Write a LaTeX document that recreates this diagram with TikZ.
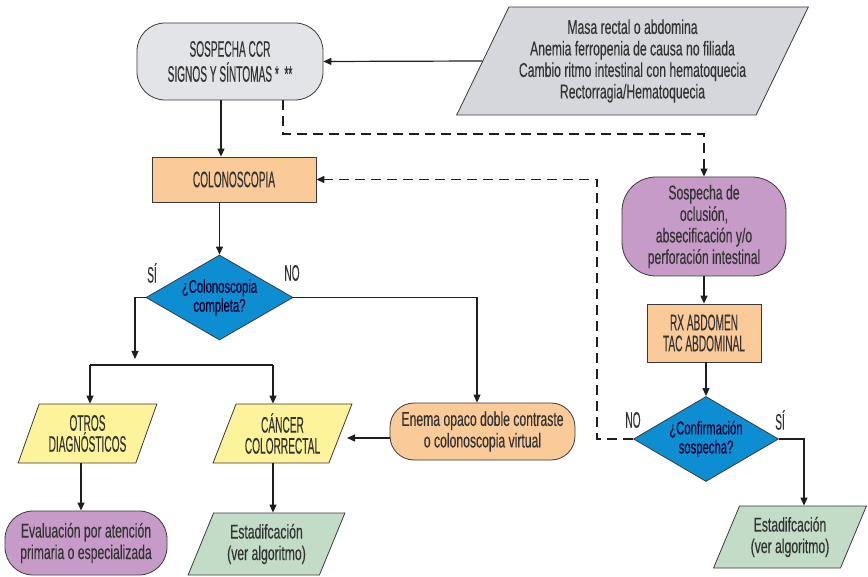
\documentclass[tikz,border=0pt]{standalone}
\usepackage{fontspec}
\setmainfont[FakeStretch=0.61,FakeBold=0.2]{Liberation Sans}
\newfontfamily\capfont[FakeStretch=0.45,FakeBold=0.2]{Liberation Sans}
\usetikzlibrary{shapes.geometric,arrows.meta}

\definecolor{edge}{HTML}{3A3A3A}
\definecolor{txt}{HTML}{333333}
\definecolor{wire}{HTML}{1E1E1E}
\definecolor{greybox}{HTML}{E3E4E8}
\definecolor{greypara}{HTML}{D5D7DC}
\definecolor{orangebox}{HTML}{FBCA99}
\definecolor{bluedec}{HTML}{0E8ED2}
\definecolor{yellowpara}{HTML}{FCF39B}
\definecolor{purplebox}{HTML}{C69BC8}
\definecolor{greenpara}{HTML}{C2DCC7}

\tikzset{
  box/.style={draw=edge, line width=0.8pt, text=txt, align=center, inner sep=0pt},
  lowtext/.style={font=\fontsize{20}{21.5}\selectfont},
  captext/.style={font=\capfont\fontsize{22.5}{21}\selectfont},
  rbox/.style={box, rectangle, rounded corners=#1},
  sqbox/.style={box, rectangle},
  para/.style={box, trapezium, trapezium left angle=#1, trapezium stretches=true},
  decision/.style={box, diamond, shape aspect=1.7, fill=bluedec, text=black!80!blue,
                   font=\fontsize{18.5}{19}\selectfont},
  lbl/.style={text=txt, inner sep=0pt, font=\capfont\fontsize{22.5}{21}\selectfont},
  arr/.style={draw=wire, line width=1.2pt, -{Triangle[length=8pt,width=7pt]}},
  wireline/.style={draw=wire, line width=1.2pt},
  dsh/.style={draw=wire, line width=1.3pt, dash pattern=on 10pt off 6pt,
              -{Triangle[length=8pt,width=7pt]}},
}

\begin{document}
\begin{tikzpicture}[x=1pt,y=-1pt]
\useasboundingbox (0,0) rectangle (868,577);

% ---- nodes ----
\node[rbox=28pt, fill=greybox, font=\capfont\fontsize{22.5}{25}\selectfont,
      minimum width=186pt, minimum height=77pt] (sosp) at (230,61.5)
      {SOSPECHA CCR\\SIGNOS Y SÍNTOMAS\ *\ \ **};

\node[para=60, trapezium right angle=120, fill=greypara, lowtext,
      minimum width=353pt, minimum height=108pt] (signs) at (632.5,61)
      {Masa rectal o abdomina\\Anemia ferropenia de causa no filiada\\
       Cambio ritmo intestinal con hematoquecia\\Rectorragia/Hematoquecia};

\node[sqbox, fill=orangebox, captext, minimum width=164pt, minimum height=45pt]
      (colo) at (234,179.5) {COLONOSCOPIA};

\node[decision, minimum width=147pt, minimum height=85pt] (d1) at (219.5,297.5)
      {¿Colonoscopia\\completa?};
\node[lbl] (si1) at (152,273) {SÍ};
\node[lbl] (no1) at (292,273) {NO};

\node[rbox=24pt, fill=orangebox, lowtext, minimum width=185pt, minimum height=57pt]
      (enema) at (482.5,431.5) {Enema opaco doble contraste\\o colonoscopia virtual};

\node[para=65.4, trapezium right angle=114.6, fill=yellowpara, captext,
      minimum width=139pt, minimum height=59pt] (otros) at (87.5,433.5)
      {OTROS\\DIAGNÓSTICOS};
\node[para=65.4, trapezium right angle=114.6, fill=yellowpara, captext,
      minimum width=139pt, minimum height=59pt] (cancer) at (282.5,433.5)
      {CÁNCER\\COLORRECTAL};

\node[rbox=28pt, fill=purplebox, lowtext, minimum width=162pt, minimum height=64pt]
      (eval) at (86,543) {Evaluación por atención\\primaria o especializada};
\node[para=64.9, trapezium right angle=115.1, fill=greenpara, lowtext,
      minimum width=157pt, minimum height=62pt] (est1) at (266.5,544)
      {Estadifcación\\(ver algoritmo)};

\node[rbox=34pt, fill=purplebox, lowtext, minimum width=164pt, minimum height=99pt]
      (ocl) at (704,226.5)
      {Sospecha de\\oclusión,\\absecificación y/o\\perforación intestinal};
\node[sqbox, fill=orangebox, captext, minimum width=114pt, minimum height=58pt]
      (rx) at (704,333) {RX ABDOMEN\\TAC ABDOMINAL};
\node[decision, minimum width=145pt, minimum height=85pt] (d2) at (706,439)
      {¿Confirmación\\sospecha?};
\node[lbl] (no2) at (633,420) {NO};
\node[lbl] (si2) at (780,420) {SÍ};
\node[para=63.4, trapezium right angle=116.6, fill=greenpara, lowtext,
      minimum width=153pt, minimum height=62pt] (est2) at (790,537)
      {Estadifcación\\(ver algoritmo)};

% ---- routing points ----
\coordinate (xa) at (221,0);
\coordinate (xd) at (283,0);
\coordinate (dk) at (704,134);
\coordinate (xq) at (597,0);
\coordinate (tipL) at (135,359);
\coordinate (bl) at (90,365);
\coordinate (br) at (273,365);
\coordinate (xe) at (477,0);
\coordinate (ctip) at (347,438);
\coordinate (xo) at (81,0);
\coordinate (xc) at (273,0);
\coordinate (xs) at (804,0);

% ---- connectors ----
\draw[arr] (signs.west) -- (sosp.east);
\draw[arr] (sosp.south -| xa) -- (colo.north -| xa);
\draw[arr] (colo.south -| d1.north) -- (d1.north);
\draw[dsh] (sosp.south -| xd) |- (dk) -- (ocl.north);

\draw[arr] (d1.west) -| (tipL);
\draw[wireline] (bl) -- (br);
\draw[arr] (bl) -- (bl |- otros.north);
\draw[arr] (br) -- (br |- cancer.north);
\draw[arr] (d1.east) -| (enema.north -| xe);
\draw[arr] (enema.west |- ctip) -- (ctip);

\draw[arr] (otros.south -| xo) -- (eval.north -| xo);
\draw[arr] (cancer.south -| xc) -- (est1.north -| xc);

\draw[arr] (ocl.south) -- (rx.north);
\draw[arr] (rx.south -| d2.north) -- (d2.north);
\draw[arr] (d2.east) -| (est2.north -| xs);
\draw[dsh] (d2.west) -- (d2.west -| xq) |- (colo.east);
\end{tikzpicture}
\end{document}
